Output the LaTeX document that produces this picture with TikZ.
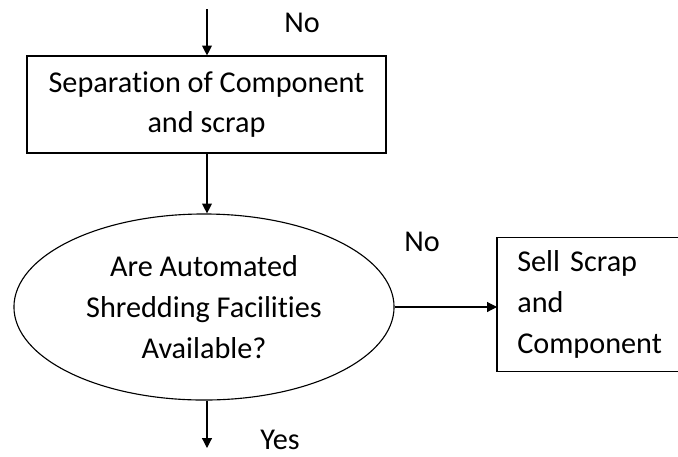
\documentclass[tikz,border=0pt]{standalone}
\usepackage{fontspec}
\setmainfont[Ligatures=NoCommon]{Carlito}
\usetikzlibrary{arrows.meta,shapes.geometric,positioning}
\tikzset{every node/.append style={font=\fontsize{21.5pt}{29pt}\selectfont}}
\tikzset{flow/.style={draw,line width=0.8pt,inner sep=0pt},
         answer/.style={inner sep=0pt},
         link/.style={line width=0.8pt,-{Triangle[length=7pt,width=7pt]}}}

\begin{document}
\begin{tikzpicture}[x=0.025cm,y=-0.025cm]
    \useasboundingbox (0,0) rectangle (678,456);

    \coordinate (Entry) at (207,9);
    \node[flow,rectangle,minimum width=8.975cm,minimum height=2.425cm,align=center] (Separation) at (206.5,104.5) {Separation of Component\\and scrap};
    \node[flow,ellipse,minimum width=9.5cm,minimum height=4.65cm,align=center] (Shredding) at (204,307) {Are Automated\\Shredding Facilities\\Available?};
    % box runs past the right edge of the page
    \node[inner sep=0pt,anchor=west,text width=4.5cm,inner xsep=0.5cm,minimum height=3.325cm,align=left] (Sell) at (497,304.5) {Sell Scrap\\and\\Component};
    \draw[line width=0.8pt] (720,0 |- Sell.north) -- (Sell.north west) -- (Sell.south west) -- (720,0 |- Sell.south);
    \coordinate (Exit) at (207,448);

    \node[answer] (No Top) at (302,23) {No};
    \node[answer] (No Right) at (422,242) {No};
    \node[answer] (Yes) at (280,440) {Yes};

    \draw[link] (Entry) -- (Entry |- Separation.north);
    \draw[link] (Separation.south -| Entry) -- (Entry |- Shredding.north);
    \draw[link] (Shredding.east) -- (Shredding.east -| Sell.west);
    \draw[link] (Exit |- Shredding.south) -- (Exit);
\end{tikzpicture}
\end{document}
